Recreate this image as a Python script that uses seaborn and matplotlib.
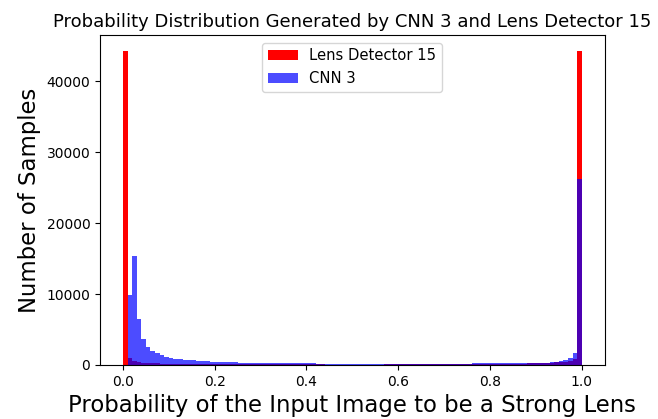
import numpy as np
import pandas as pd
import seaborn as sns
import matplotlib.pyplot as plt

# histogram counts, 100 bins of width 0.01 on [0, 1]
bin_centers = np.arange(100) * 0.01 + 0.005

lens_detector_counts = [
    44300, 1000, 560, 380, 300, 260, 230, 210, 195, 180,
    170, 160, 152, 145, 140, 135, 130, 125, 120, 116,
    112, 108, 105, 102, 99, 96, 93, 90, 88, 86,
    84, 82, 80, 78, 76, 74, 72, 70, 69, 68,
    67, 66, 65, 64, 63, 62, 61, 60, 60, 60,
    60, 60, 60, 60, 61, 62, 63, 64, 65, 66,
    68, 70, 72, 74, 76, 78, 80, 83, 86, 89,
    92, 95, 98, 102, 106, 110, 115, 120, 125, 130,
    136, 142, 150, 158, 166, 175, 185, 196, 210, 225,
    240, 260, 285, 315, 350, 400, 470, 600, 900, 44300,
]

cnn_counts = [
    0, 9800, 15300, 6500, 3700, 2600, 2000, 1650, 1370, 1180,
    1020, 900, 820, 750, 690, 640, 590, 550, 510, 480,
    450, 420, 400, 380, 360, 340, 325, 310, 300, 290,
    280, 270, 260, 250, 240, 235, 230, 225, 220, 215,
    210, 205, 200, 195, 190, 185, 180, 178, 175, 172,
    170, 168, 166, 165, 165, 165, 166, 168, 170, 172,
    174, 176, 178, 180, 182, 184, 186, 188, 190, 192,
    194, 196, 198, 200, 202, 204, 206, 208, 210, 212,
    215, 220, 225, 232, 240, 250, 260, 270, 280, 285,
    290, 310, 340, 380, 470, 570, 700, 930, 1750, 26300,
]

lens_df = pd.DataFrame({'prob': bin_centers, 'count': lens_detector_counts})
cnn_df = pd.DataFrame({'prob': bin_centers, 'count': cnn_counts})

fig, ax = plt.subplots(figsize=(6.58, 4.19), dpi=100)

sns.histplot(data=lens_df, x='prob', weights='count', binwidth=0.01, binrange=(0, 1),
             color='red', alpha=1.0, linewidth=0, label='Lens Detector 15', ax=ax)
sns.histplot(data=cnn_df, x='prob', weights='count', binwidth=0.01, binrange=(0, 1),
             color='blue', alpha=0.7, linewidth=0, label='CNN 3', ax=ax)

ax.set_title('Probability Distribution Generated by CNN 3 and Lens Detector 15', fontsize=13)
ax.set_xlabel('Probability of the Input Image to be a Strong Lens', fontsize=16.4)
ax.set_ylabel('Number of Samples', fontsize=16.4)
ax.tick_params(labelsize=10)
ax.legend(loc='upper center', fontsize=10.6)

fig.subplots_adjust(left=0.152, right=0.919, top=0.916, bottom=0.129)
fig.savefig('out.png', dpi=100)
